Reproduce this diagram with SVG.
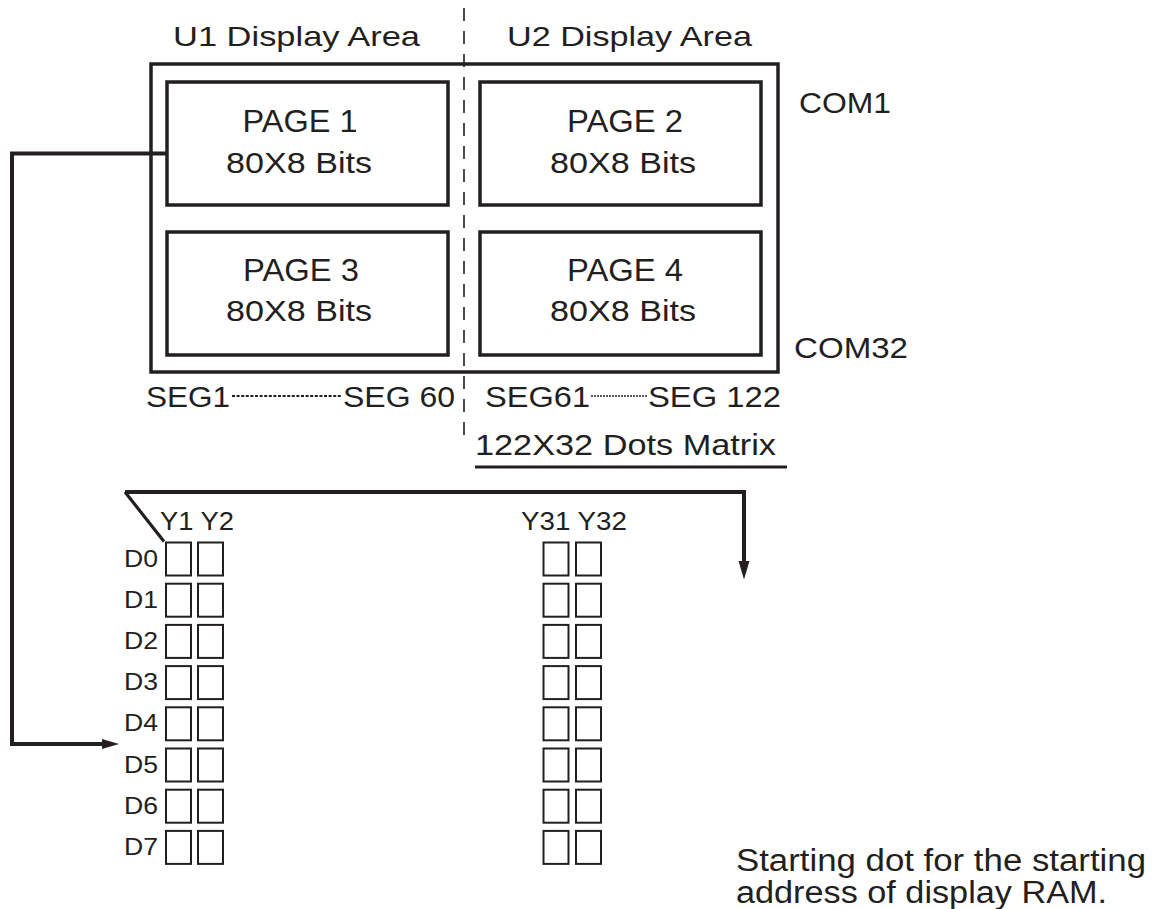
<svg xmlns="http://www.w3.org/2000/svg" width="1158" height="909" viewBox="0 0 1158 909">
<style>
text{font-family:"Liberation Sans",Arial,sans-serif;fill:#231f20}
.t28{font-size:28px}.t30{font-size:30px}.t31{font-size:31px}.t26{font-size:26px}.t23{font-size:23px}
.box{fill:none;stroke:#231f20;stroke-width:3.5}
.cell{fill:none;stroke:#231f20;stroke-width:2}
.conn{fill:none;stroke:#231f20;stroke-width:4}
.ah{fill:#231f20}
</style>
<rect width="1158" height="909" fill="#fff"/>
<g id="divider">
<line x1="464" y1="8" x2="464" y2="435" stroke="#231f20" stroke-width="1.6" stroke-dasharray="13 10"/>
</g>
<g id="titles">
<text class="t28" x="173" y="45.5" textLength="247" lengthAdjust="spacingAndGlyphs">U1 Display Area</text>
<text class="t28" x="507" y="45.5" textLength="245" lengthAdjust="spacingAndGlyphs">U2 Display Area</text>
</g>
<g id="display">
<rect class="box" x="151" y="64" width="627" height="308"/>
</g>
<g id="page1">
<rect class="box" x="167" y="82" width="281" height="123"/>
<text class="t31" x="300" y="132" text-anchor="middle" textLength="115" lengthAdjust="spacingAndGlyphs">PAGE 1</text>
<text class="t30" x="299" y="173" text-anchor="middle" textLength="146" lengthAdjust="spacingAndGlyphs">80X8 Bits</text>
</g>
<g id="page2">
<rect class="box" x="480" y="82" width="281" height="123"/>
<text class="t31" x="625" y="132" text-anchor="middle" textLength="116" lengthAdjust="spacingAndGlyphs">PAGE 2</text>
<text class="t30" x="623" y="173" text-anchor="middle" textLength="146" lengthAdjust="spacingAndGlyphs">80X8 Bits</text>
</g>
<g id="page3">
<rect class="box" x="167" y="232" width="281" height="123"/>
<text class="t31" x="301" y="281" text-anchor="middle" textLength="116" lengthAdjust="spacingAndGlyphs">PAGE 3</text>
<text class="t30" x="299" y="321" text-anchor="middle" textLength="146" lengthAdjust="spacingAndGlyphs">80X8 Bits</text>
</g>
<g id="page4">
<rect class="box" x="480" y="232" width="281" height="123"/>
<text class="t31" x="625" y="281" text-anchor="middle" textLength="116" lengthAdjust="spacingAndGlyphs">PAGE 4</text>
<text class="t30" x="623" y="321" text-anchor="middle" textLength="146" lengthAdjust="spacingAndGlyphs">80X8 Bits</text>
</g>
<g id="com-labels">
<text class="t30" x="799" y="113" textLength="92" lengthAdjust="spacingAndGlyphs">COM1</text>
<text class="t30" x="794" y="358" textLength="114" lengthAdjust="spacingAndGlyphs">COM32</text>
</g>
<g id="seg-labels">
<text class="t30" x="146" y="407" textLength="84" lengthAdjust="spacingAndGlyphs">SEG1</text>
<line x1="232" y1="396" x2="342" y2="396" stroke="#231f20" stroke-width="1.8" stroke-dasharray="3 1.6"/>
<text class="t30" x="343" y="407" textLength="112" lengthAdjust="spacingAndGlyphs">SEG 60</text>
<text class="t30" x="485" y="407" textLength="105" lengthAdjust="spacingAndGlyphs">SEG61</text>
<line x1="591" y1="396" x2="647" y2="396" stroke="#231f20" stroke-width="1.5" stroke-dasharray="2 1"/>
<text class="t30" x="648" y="407" textLength="133" lengthAdjust="spacingAndGlyphs">SEG 122</text>
</g>
<g id="matrix-label">
<text class="t30" x="475" y="455" textLength="301" lengthAdjust="spacingAndGlyphs">122X32 Dots Matrix</text>
<line x1="475" y1="467" x2="787" y2="467" stroke="#231f20" stroke-width="3"/>
</g>
<g id="connectors">
<path class="conn" d="M167 153.5 H12 V744 H104"/>
<polygon class="ah" points="119,744 102,739 102,749"/>
<path class="conn" d="M125 492 H744 V563"/>
<line x1="125" y1="492" x2="164" y2="541.5" stroke="#231f20" stroke-width="3.2"/>
<polygon class="ah" points="744,579.5 738.5,561 749.5,561"/>
</g>
<g id="ram-left">
<text class="t26" x="160" y="529.5" textLength="74" lengthAdjust="spacingAndGlyphs">Y1 Y2</text>
<text class="t23" x="124" y="566.5" textLength="34" lengthAdjust="spacingAndGlyphs">D0</text>
<text class="t23" x="124" y="607.7" textLength="34" lengthAdjust="spacingAndGlyphs">D1</text>
<text class="t23" x="124" y="648.9" textLength="34" lengthAdjust="spacingAndGlyphs">D2</text>
<text class="t23" x="124" y="690.1" textLength="34" lengthAdjust="spacingAndGlyphs">D3</text>
<text class="t23" x="124" y="731.3" textLength="34" lengthAdjust="spacingAndGlyphs">D4</text>
<text class="t23" x="124" y="772.5" textLength="34" lengthAdjust="spacingAndGlyphs">D5</text>
<text class="t23" x="124" y="813.7" textLength="34" lengthAdjust="spacingAndGlyphs">D6</text>
<text class="t23" x="124" y="854.9" textLength="34" lengthAdjust="spacingAndGlyphs">D7</text>
<rect class="cell" x="166" y="542.5" width="25" height="33"/><rect class="cell" x="198" y="542.5" width="25" height="33"/>
<rect class="cell" x="166" y="583.7" width="25" height="33"/><rect class="cell" x="198" y="583.7" width="25" height="33"/>
<rect class="cell" x="166" y="624.9" width="25" height="33"/><rect class="cell" x="198" y="624.9" width="25" height="33"/>
<rect class="cell" x="166" y="666.1" width="25" height="33"/><rect class="cell" x="198" y="666.1" width="25" height="33"/>
<rect class="cell" x="166" y="707.3" width="25" height="33"/><rect class="cell" x="198" y="707.3" width="25" height="33"/>
<rect class="cell" x="166" y="748.5" width="25" height="33"/><rect class="cell" x="198" y="748.5" width="25" height="33"/>
<rect class="cell" x="166" y="789.7" width="25" height="33"/><rect class="cell" x="198" y="789.7" width="25" height="33"/>
<rect class="cell" x="166" y="830.9" width="25" height="33"/><rect class="cell" x="198" y="830.9" width="25" height="33"/>
</g>
<g id="ram-right">
<text class="t26" x="521" y="529.5" textLength="106" lengthAdjust="spacingAndGlyphs">Y31 Y32</text>
<rect class="cell" x="543.5" y="542.5" width="25" height="33"/><rect class="cell" x="576" y="542.5" width="25" height="33"/>
<rect class="cell" x="543.5" y="583.7" width="25" height="33"/><rect class="cell" x="576" y="583.7" width="25" height="33"/>
<rect class="cell" x="543.5" y="624.9" width="25" height="33"/><rect class="cell" x="576" y="624.9" width="25" height="33"/>
<rect class="cell" x="543.5" y="666.1" width="25" height="33"/><rect class="cell" x="576" y="666.1" width="25" height="33"/>
<rect class="cell" x="543.5" y="707.3" width="25" height="33"/><rect class="cell" x="576" y="707.3" width="25" height="33"/>
<rect class="cell" x="543.5" y="748.5" width="25" height="33"/><rect class="cell" x="576" y="748.5" width="25" height="33"/>
<rect class="cell" x="543.5" y="789.7" width="25" height="33"/><rect class="cell" x="576" y="789.7" width="25" height="33"/>
<rect class="cell" x="543.5" y="830.9" width="25" height="33"/><rect class="cell" x="576" y="830.9" width="25" height="33"/>
</g>
<g id="note">
<text class="t31" x="736" y="871" textLength="410" lengthAdjust="spacingAndGlyphs">Starting dot for the starting</text>
<text class="t31" x="736" y="903" textLength="371" lengthAdjust="spacingAndGlyphs">address of display RAM.</text>
</g>
</svg>
